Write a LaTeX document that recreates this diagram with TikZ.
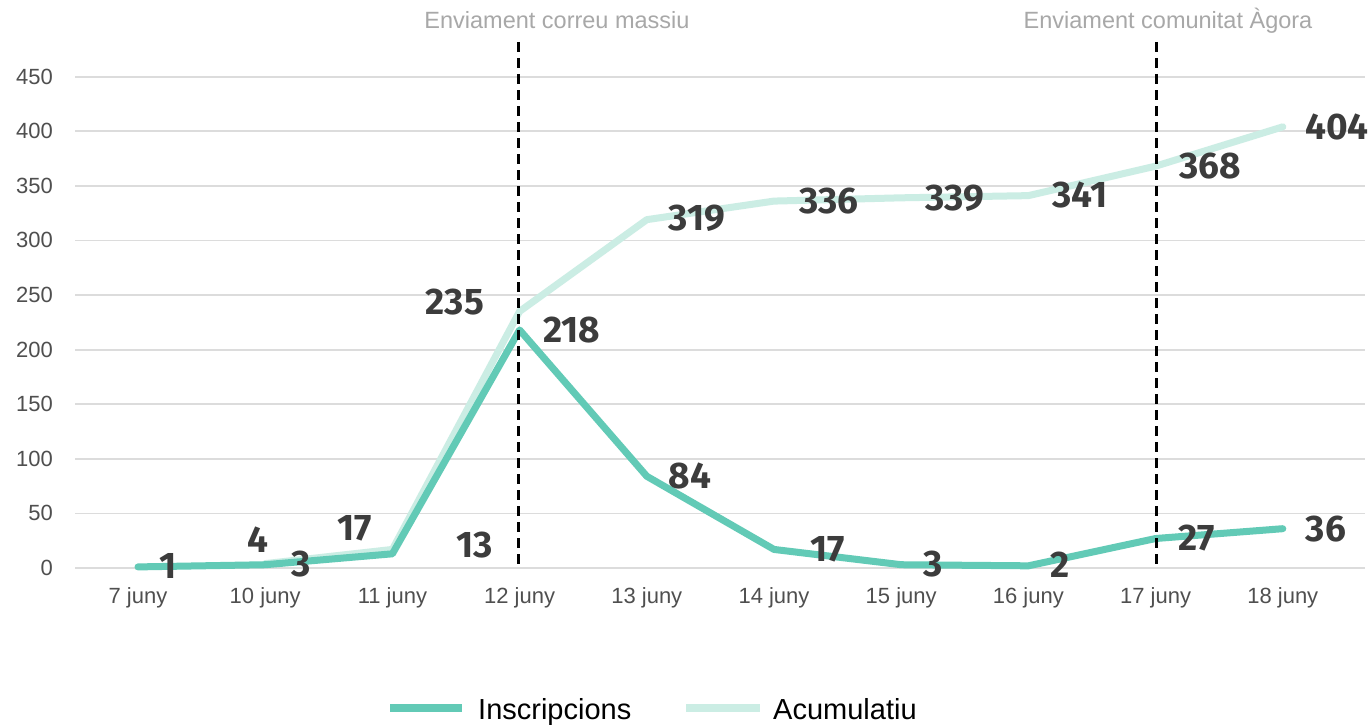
\documentclass[tikz,border=0pt]{standalone}
\usepackage{fontspec}
\setmainfont{Liberation Sans}
\newfontfamily\labfont{Fira Sans}
\definecolor{insc}{HTML}{62CAB6}
\definecolor{acum}{HTML}{CBEDE4}
\definecolor{gridc}{HTML}{DCDCDC}
\definecolor{axtxt}{HTML}{4F4F4F}
\definecolor{annot}{HTML}{A8A8A8}
\definecolor{valc}{HTML}{3C3C3C}
\begin{document}
\begin{tikzpicture}[x=1pt,y=-1pt,
  gridline/.style={draw=gridc,line width=1.8pt},
  ylab/.style={anchor=east,text=axtxt,font=\fontsize{22}{22}\selectfont,inner sep=0pt},
  xlab/.style={anchor=center,text=axtxt,font=\fontsize{22}{22}\selectfont,inner sep=0pt},
  val/.style={anchor=center,text=valc,font=\labfont\bfseries\fontsize{37}{37}\selectfont,inner sep=0pt},
  annotxt/.style={anchor=center,text=annot,font=\fontsize{23.5}{23.5}\selectfont,inner sep=0pt},
  marker/.style={draw=black,line width=3pt,dash pattern=on 10pt off 6pt},
  inscline/.style={draw=insc,line width=7pt,line join=round,line cap=round},
  acumline/.style={draw=acum,line width=7pt,line join=round,line cap=round},
  legtxt/.style={anchor=base west,text=black,font=\fontsize{29}{29}\selectfont,inner sep=0pt}]
\useasboundingbox (0,0) rectangle (1371,725);
\fill[white] (0,0) rectangle (1371,725);
% grid and y labels
\foreach \v in {0,50,...,450}{
  \pgfmathsetmacro{\yy}{568-\v*1.092}
  \coordinate (gl\v) at (75,\yy);
  \coordinate (gr\v) at (1365,\yy);
  \draw[gridline] (gl\v) -- (gr\v);
  \node[ylab] (yl\v) at (53,\yy) {\v};
}
% x labels
\foreach \d [count=\i from 0] in {7,10,11,12,13,14,15,16,17,18}{
  \pgfmathsetmacro{\xx}{138+\i*127.2}
  \node[xlab] (xl\i) at (\xx,598) {\d{} juny};
}
% data coordinates
\foreach \v [count=\i from 0] in {1,3,13,218,84,17,3,2,27,36}{
  \pgfmathsetmacro{\xx}{138+\i*127.2}
  \pgfmathsetmacro{\yy}{568-\v*1.092}
  \coordinate (p\i) at (\xx,\yy);
}
\foreach \v [count=\i from 1] in {4,17,235,319,336,339,341,368,404}{
  \pgfmathsetmacro{\xx}{138+\i*127.2}
  \pgfmathsetmacro{\yy}{568-\v*1.092}
  \coordinate (c\i) at (\xx,\yy);
}
% markers
\coordinate (m1t) at (518,42);
\coordinate (m1b) at (518,568);
\coordinate (m2t) at (1156,42);
\coordinate (m2b) at (1156,568);
% lines
\draw[acumline] (c1) -- (c2) -- (c3) -- (c4) -- (c5) -- (c6) -- (c7) -- (c8) -- (c9);
\draw[inscline] (p0) -- (p1) -- (p2) -- (p3) -- (p4) -- (p5) -- (p6) -- (p7) -- (p8) -- (p9);
\draw[marker] (m1t) -- (m1b);
\draw[marker] (m2t) -- (m2b);
\node[annotxt] (a1) at (557,20) {Enviament correu massiu};
\node[annotxt] (a2) at (1168,21) {Enviament comunitat Àgora};
% value labels
\node[val] (v1) at (168,566) {1};
\node[val] (v2) at (258,540) {4};
\node[val] (v3) at (301,564) {3};
\node[val] (v4) at (355,528) {17};
\node[val] (v5) at (475,545) {13};
\node[val] (v6) at (455,302) {235};
\node[val] (v7) at (572,330) {218};
\node[val] (v8) at (690,476) {84};
\node[val] (v9) at (697,218) {319};
\node[val] (v10) at (829,201) {336};
\node[val] (v11) at (828,549) {17};
\node[val] (v12) at (955,198) {339};
\node[val] (v13) at (933,564) {3};
\node[val] (v14) at (1080,195) {341};
\node[val] (v15) at (1060,565) {2};
\node[val] (v16) at (1210,166) {368};
\node[val] (v17) at (1197,538) {27};
\node[val] (v18) at (1337,127) {404};
\node[val] (v19) at (1326,529) {36};
% legend
\coordinate (l1a) at (390,708);
\coordinate (l1b) at (462,708);
\coordinate (l2a) at (686,708);
\coordinate (l2b) at (760,708);
\draw[draw=insc,line width=8pt] (l1a) -- (l1b);
\draw[draw=acum,line width=8pt] (l2a) -- (l2b);
\node[legtxt] (lt1) at (478,719) {Inscripcions};
\node[legtxt] (lt2) at (773,719) {Acumulatiu};
\end{tikzpicture}
\end{document}
